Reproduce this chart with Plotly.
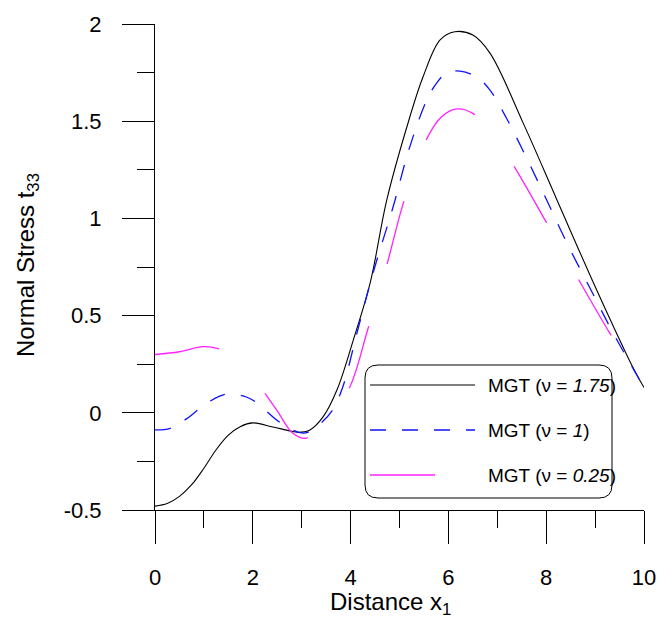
import plotly.graph_objects as go

# ---------------- data ----------------
x_black = [0, 0.25, 0.5, 0.75, 1.0, 1.25, 1.5, 1.75, 2.0, 2.41, 2.76, 2.92, 3.17, 3.44, 3.72, 4.05, 4.4,
           4.74, 5.15, 5.48, 5.83, 6.13, 6.5, 6.85, 7.53, 8.22, 9.0, 9.8, 10]
y_black = [-0.48, -0.467, -0.43, -0.37, -0.285, -0.19, -0.115, -0.07, -0.052, -0.073, -0.093, -0.1,
           -0.088, -0.02, 0.117, 0.37, 0.668, 1.095, 1.47, 1.727, 1.918, 1.96, 1.943, 1.85, 1.49,
           1.095, 0.65, 0.22, 0.13]

x_blue = [0, 0.31, 0.65, 1.06, 1.47, 1.88, 2.09, 2.56, 3.03, 3.31, 3.62, 3.84, 4.13, 4.46, 4.87,
          5.2, 5.56, 5.77, 5.97, 6.24, 6.58, 6.85, 7.2, 7.6, 8.0, 8.43, 8.96, 9.37, 10]
y_blue = [-0.088, -0.08, -0.03, 0.05, 0.097, 0.08, 0.05, -0.05, -0.105, -0.07, 0.01, 0.133, 0.41,
          0.72, 1.06, 1.36, 1.61, 1.70, 1.75, 1.758, 1.727, 1.66, 1.51, 1.31, 1.10, 0.87, 0.61, 0.41, 0.13]

x_mag = [0, 0.5, 0.98, 1.29, 1.6, 2.0, 2.25, 2.5, 2.82, 3.1, 3.5, 3.95, 4.36, 4.74, 5.08, 5.52,
         5.85, 6.17, 6.5, 6.9, 7.3, 7.98, 8.63, 9.3, 10]
y_mag = [0.30, 0.314, 0.34, 0.33, 0.29, 0.19, 0.10, 0.01, -0.105, -0.13, -0.03, 0.115, 0.436, 0.76,
         1.08, 1.39, 1.52, 1.563, 1.54, 1.43, 1.285, 0.99, 0.70, 0.41, 0.13]

series_names = ["MGT (ν = <i>1.75</i>)", "MGT (ν = <i>1</i>)", "MGT (ν = <i>0.25</i>)"]

x_tick_vals = [0, 2, 4, 6, 8, 10]
x_tick_text = ["0", "2", "4", "6", "8", "10"]
x_minor_vals = [1, 3, 5, 7, 9]
y_tick_vals = [-0.5, 0, 0.5, 1, 1.5, 2]
y_tick_text = ["-0.5", "0", "0.5", "1", "1.5", "2"]
y_minor_vals = [-0.25, 0.25, 0.75, 1.25, 1.75]

x_title = "Distance x<sub>1</sub>"
y_title = "Normal Stress t<sub>33</sub>"

# ---------------- styles ----------------
FONT = "Liberation Sans, Arial, sans-serif"
W, H = 660, 617
L, R, T, B = 155, 644, 24, 510
styles = [
    dict(color="black", width=1.1, dash="solid"),
    dict(color="#1010ff", width=1.3, dash="16px,16px"),
    dict(color="#ff22ff", width=1.3, dash="65px,65px"),
]


def px(xp):
    return (xp - L) / (R - L)


def py(yp):
    return (B - yp) / (B - T)


fig = go.Figure()
for xs, ys, st, nm in zip([x_black, x_blue, x_mag], [y_black, y_blue, y_mag], styles, series_names):
    fig.add_trace(go.Scatter(x=xs, y=ys, mode="lines", name=nm, line=dict(shape="spline", smoothing=1.0, **st),
                             showlegend=False, hoverinfo="skip"))

axis_common = dict(showgrid=False, zeroline=False, showline=True, linecolor="black", linewidth=1,
                   ticks="outside", tickcolor="black", tickwidth=1, automargin=False,
                   tickfont=dict(family=FONT, size=22, color="black"))

fig.update_xaxes(range=[0, 10], tickmode="array", tickvals=x_tick_vals, ticktext=x_tick_text,
                 ticklen=33, ticklabelstandoff=15,
                 minor=dict(tickmode="array", tickvals=x_minor_vals, ticklen=17, ticks="outside",
                            tickcolor="black", tickwidth=1, showgrid=False),
                 **axis_common)
fig.update_yaxes(range=[-0.5, 2], tickmode="array", tickvals=y_tick_vals, ticktext=y_tick_text,
                 ticklen=32, ticklabelstandoff=16,
                 minor=dict(tickmode="array", tickvals=y_minor_vals, ticklen=17, ticks="outside",
                            tickcolor="black", tickwidth=1, showgrid=False),
                 **axis_common)

# ---------------- legend (drawn manually) ----------------
bx0, bx1, by0, by1, rr = 365, 612, 365, 498, 13
path = (f"M {px(bx0 + rr)},{py(by0)} L {px(bx1 - rr)},{py(by0)} "
        f"Q {px(bx1)},{py(by0)} {px(bx1)},{py(by0 + rr)} "
        f"L {px(bx1)},{py(by1 - rr)} Q {px(bx1)},{py(by1)} {px(bx1 - rr)},{py(by1)} "
        f"L {px(bx0 + rr)},{py(by1)} Q {px(bx0)},{py(by1)} {px(bx0)},{py(by1 - rr)} "
        f"L {px(bx0)},{py(by0 + rr)} Q {px(bx0)},{py(by0)} {px(bx0 + rr)},{py(by0)} Z")
shapes = [dict(type="path", xref="paper", yref="paper", path=path,
               line=dict(color="black", width=1), fillcolor="white", layer="above")]
annotations = []
row_y = [385, 430, 475]
for st, nm, yy in zip(styles, series_names, row_y):
    shapes.append(dict(type="line", xref="paper", yref="paper", x0=px(370), x1=px(475), y0=py(yy), y1=py(yy),
                       line=dict(color=st["color"], width=st["width"], dash=st["dash"]), layer="above"))
    annotations.append(dict(xref="paper", yref="paper", x=px(486), y=py(yy), text=nm, showarrow=False,
                            xanchor="left", yanchor="middle",
                            font=dict(family=FONT, size=19, color="black")))

annotations.append(dict(xref="paper", yref="paper", x=px(390), y=py(603), text=x_title, showarrow=False,
                        xanchor="center", yanchor="middle", font=dict(family=FONT, size=24, color="black")))
annotations.append(dict(xref="paper", yref="paper", x=px(27), y=py(265), text=y_title, showarrow=False,
                        textangle=-90, xanchor="center", yanchor="middle",
                        font=dict(family=FONT, size=24, color="black")))

fig.update_layout(template="none", width=W, height=H, margin=dict(l=L, r=W - R, t=T, b=H - B, pad=0),
                  autosize=False,
                  paper_bgcolor="white", plot_bgcolor="white", showlegend=False,
                  shapes=shapes, annotations=annotations, font=dict(family=FONT))

fig.write_html("out.html", config={"displayModeBar": False},
               post_script="document.body.style.margin='0px';document.body.style.overflow='hidden';")
